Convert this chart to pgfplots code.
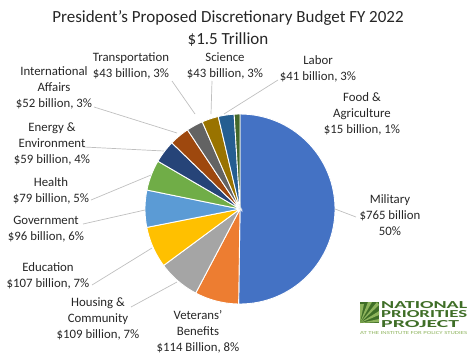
\documentclass[border=0pt]{standalone}
\usepackage{pgfplots}
\pgfplotsset{compat=1.18}
\usepackage{fontspec}
\setmainfont{Carlito}
\definecolor{c1}{HTML}{4472C4}
\definecolor{c2}{HTML}{ED7D31}
\definecolor{c3}{HTML}{A5A5A5}
\definecolor{c4}{HTML}{FFC000}
\definecolor{c5}{HTML}{5B9BD5}
\definecolor{c6}{HTML}{70AD47}
\definecolor{c7}{HTML}{264478}
\definecolor{c8}{HTML}{9E480E}
\definecolor{c9}{HTML}{636363}
\definecolor{c10}{HTML}{997300}
\definecolor{c11}{HTML}{255E91}
\definecolor{c12}{HTML}{43682B}
\definecolor{leader}{HTML}{BFBFBF}
\definecolor{txt}{HTML}{262626}
\definecolor{npp}{HTML}{3F6E27}
\definecolor{npplight}{HTML}{8DB35C}
% #1 = cumulative value before the slice, #2 = slice value (billion $), #3 = colour
\newcommand\slice[3]{\addplot[fill=#3, draw=white, line width=0.9pt, domain={90-(#1+#2)*360/1523}:{90-#1*360/1523}, samples=60, variable=\t] ({240+95*cos(\t)},{209-95*sin(\t)}) -- (axis cs:240,209) -- cycle;}
\tikzset{lbl/.style={font=\fontsize{12.8}{16}\selectfont, text=txt, align=center, inner sep=0pt}}
\begin{document}
\begin{tikzpicture}
\begin{axis}[
  scale only axis, width=476pt, height=360pt,
  xmin=0, xmax=476, ymin=0, ymax=360, y dir=reverse,
  hide axis, clip=false,
]
% slices: Military, Veterans, Housing, Education, Government, Health, Energy, Intl, Transportation, Science, Labor, Food
\slice{0}{765}{c1}
\slice{765}{114}{c2}
\slice{879}{109}{c3}
\slice{988}{107}{c4}
\slice{1095}{96}{c5}
\slice{1191}{79}{c6}
\slice{1270}{59}{c7}
\slice{1329}{52}{c8}
\slice{1381}{43}{c9}
\slice{1424}{43}{c10}
\slice{1467}{41}{c11}
\slice{1508}{15}{c12}
% leader lines
\draw[leader, line width=0.7pt] (axis cs:94,107) -- (axis cs:177,133);
\draw[leader, line width=0.7pt] (axis cs:84,147) -- (axis cs:164,151);
\draw[leader, line width=0.7pt] (axis cs:91,200) -- (axis cs:151,175);
\draw[leader, line width=0.7pt] (axis cs:83,224) -- (axis cs:145,210);
\draw[leader, line width=0.7pt] (axis cs:92,285) -- (axis cs:152,248);
\draw[leader, line width=0.7pt] (axis cs:131,307) -- (axis cs:177,282);
\draw[leader, line width=0.7pt] (axis cs:172,81) -- (axis cs:195,114);
\draw[leader, line width=0.7pt] (axis cs:212,81) -- (axis cs:211,114);
\draw[leader, line width=0.7pt] (axis cs:278,80) -- (axis cs:224,114);
\draw[leader, line width=0.7pt] (axis cs:335,209) -- (axis cs:356,217);
% title
\node[lbl, font=\fontsize{17}{22.5}\selectfont] at (axis cs:228,28.5) {President’s Proposed Discretionary Budget FY 2022\\\$1.5 Trillion};
% labels
\node[lbl] at (axis cs:54,87.5) {International\\Affairs\\\$52 billion, 3\%};
\node[lbl] at (axis cs:52,143.5) {Energy \&\\Environment\\\$59 billion, 4\%};
\node[lbl] at (axis cs:51,190.5) {Health\\\$79 billion, 5\%};
\node[lbl] at (axis cs:46,229.5) {Government\\\$96 billion, 6\%};
\node[lbl] at (axis cs:48,275.5) {Education\\\$107 billion, 7\%};
\node[lbl] at (axis cs:98,319) {Housing \&\\Community\\\$109 billion, 7\%};
\node[lbl] at (axis cs:198,332) {Veterans'\\Benefits\\\$114 Billion, 8\%};
\node[lbl] at (axis cs:131,65.5) {Transportation\\\$43 billion, 3\%};
\node[lbl] at (axis cs:225,65.5) {Science\\\$43 billion, 3\%};
\node[lbl] at (axis cs:318,69) {Labor\\\$41 billion, 3\%};
\node[lbl] at (axis cs:362,113.5) {Food \&\\Agriculture\\\$15 billion, 1\%};
\node[lbl] at (axis cs:390,215) {Military\\\$765 billion\\50\%};
% logo
\fill[npp] (axis cs:360,302) rectangle (axis cs:379,323);
\fill[npplight] (axis cs:360,323) -- (axis cs:360,304) -- (axis cs:364,304) -- cycle;
\fill[npplight] (axis cs:360,323) -- (axis cs:368,302) -- (axis cs:372,302) -- cycle;
\fill[npplight] (axis cs:360,323) -- (axis cs:377,302) -- (axis cs:379,305) -- cycle;
\fill[npplight] (axis cs:360,323) -- (axis cs:379,311) -- (axis cs:379,315) -- cycle;
\fill[npplight] (axis cs:360,323) -- (axis cs:379,319) -- (axis cs:379,322) -- cycle;
\node[inner sep=0pt, anchor=west] at (axis cs:381,305) {\resizebox{86pt}{7pt}{\bfseries\color{npp}NATIONAL}};
\node[inner sep=0pt, anchor=west] at (axis cs:381,314.5) {\resizebox{86pt}{7pt}{\bfseries\color{npp}PRIORITIES}};
\node[inner sep=0pt, anchor=west] at (axis cs:381,324.5) {\resizebox{78pt}{7pt}{\bfseries\color{npp}PROJECT}};
\node[inner sep=0pt, anchor=west] at (axis cs:360,333) {\resizebox{107pt}{3pt}{\color{npplight}AT THE INSTITUTE FOR POLICY STUDIES}};
\end{axis}
\pgfresetboundingbox
\path (current axis.south west) rectangle (current axis.north east);
\end{tikzpicture}
\end{document}
